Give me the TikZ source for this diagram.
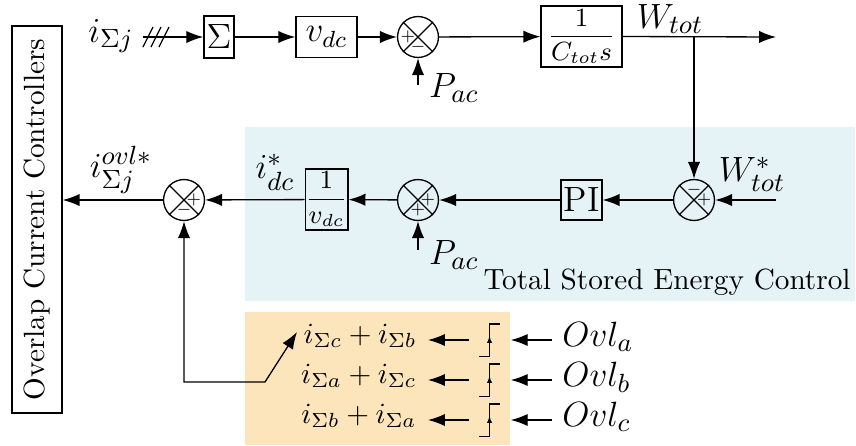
\documentclass[tikz,border=0pt]{standalone}
\usepackage{xcolor}
\usepackage{amsmath}
\usepackage{amssymb}
\usepackage{tikz}
\usetikzlibrary{arrows.meta,positioning}

\definecolor{tsecblue}{RGB}{229,242,246}
\definecolor{selorange}{RGB}{253,229,187}

\tikzset{
    block/.style={draw, rectangle, inner sep=0pt, font=\fontsize{12}{14}\selectfont},
    fracblock/.style={block, font=\fontsize{9}{11}\selectfont},
    lab/.style={font=\fontsize{12.5}{15}\selectfont},
    sumnode/.style={draw, circle, minimum size=14pt, inner sep=0pt},
    sgn/.style={font=\fontsize{4.5}{5}\selectfont, inner sep=0pt},
    stepsym/.style={minimum width=6.5pt, minimum height=10.6pt, inner sep=0pt},
}

\begin{document}
\begin{tikzpicture}[x=0.342pt, y=-0.342pt, line width=0.45pt, >={Latex[length=5.8pt,width=4.2pt]}]
        \useasboundingbox (0,0) rectangle (856,445);
        % backgrounds
        \fill[tsecblue] (245,127) rectangle (855,301);
        \fill[selorange] (245,312) rectangle (510,445);
        \node (tsec) at (667,282) {Total Stored Energy Control};

        % left box
        \node[draw, rotate=90, minimum width=132.4pt, minimum height=17.1pt, inner sep=0pt] (occ) at (37,219.5) {Overlap Current Controllers};

        % top row
        \coordinate (iin) at (143,37);
        \node[lab] (ilab) at (111,36) {$i_{\Sigma j}$};
        \node[block, minimum width=10.3pt, minimum height=14.4pt] (sig) at (219,37) {$\Sigma$};
        \node[block, minimum width=20.9pt, minimum height=14pt] (vdc) at (326.5,37) {$v_{dc}$};
        \node[sumnode] (ts) at (418,37) {};
        \node[fracblock, minimum width=27.7pt, minimum height=20.9pt] (ctot) at (581.5,36.5) {$\dfrac{1}{C_{tot}s}$};
        \coordinate (wend) at (776,37);
        \node[lab] (wtot) at (670,19) {$W_{tot}$};
        \coordinate (pac1) at (418,85);
        \node[lab] (pac1lab) at (454,88) {$P_{ac}$};

        % bottom row
        \coordinate (win) at (776,200);
        \node[lab] (wref) at (752,174) {$W^*_{tot}$};
        \node[sumnode] (rs) at (694,200) {};
        \node[block, minimum width=14pt, minimum height=13.7pt, font=\large] (pi) at (581.5,200) {PI};
        \node[sumnode] (ms) at (418,200) {};
        \coordinate (pac2) at (418,250);
        \node[lab] (pac2lab) at (454,255) {$P_{ac}$};
        \node[fracblock, minimum width=14pt, minimum height=20.9pt] (vdc2) at (326.5,199.5) {$\dfrac{1}{v_{dc}}$};
        \node[lab] (idc) at (275,172) {$i^*_{dc}$};
        \node[sumnode] (ls) at (184,200) {};
        \node[lab] (iovl) at (121,170) {$i^{ovl*}_{\Sigma j}$};

        % crosses and signs
        \foreach \s in {ts,rs,ms,ls}
            \draw (\s.north west) -- (\s.south east) (\s.north east) -- (\s.south west);
        \path (ts.center) ++(-10,0) node[sgn] {$+$};
        \path (ts.center) ++(0,10) node[sgn] {$-$};
        \path (rs.center) ++(0,-10) node[sgn] {$-$};
        \path (rs.center) ++(10,0) node[sgn] {$+$};
        \path (ms.center) ++(10,0) node[sgn] {$+$};
        \path (ms.center) ++(0,10) node[sgn] {$+$};
        \path (ls.center) ++(10,0) node[sgn] {$+$};
        \path (ls.center) ++(0,10) node[sgn] {$-$};

        % selector
        \foreach \i/\y/\a/\b/\o in {1/340/c/b/a, 2/380/a/c/b, 3/420/b/a/c} {
            \node[anchor=east, inner sep=3.7pt] (r\i) at (428,\y-4) {$i_{\Sigma \a}+i_{\Sigma \b}$};
            \node[stepsym] (st\i) at (489.5,\y) {};
            \node[lab, anchor=west] (o\i) at (552,\y-3) {$Ovl_{\o}$};
            \draw (st\i.south west) -- (st\i.south) -- (st\i.north) -- (st\i.north east);
            \draw[-{Latex[length=2.5pt,width=1.8pt]}] (st\i.south) -- ([yshift=1.5pt]st\i.center);
            \draw[->, shorten <=3.4pt] (st\i.west) -- (st\i.west -| r\i.east);
            \draw[->, shorten >=3.8pt] (st\i.east -| o\i.west) -- (st\i.east);
        }
        \coordinate (fbk) at (265,382);
        \coordinate (sel) at (297,332);

        % connectors
        \draw[->] (iin) -- (sig.west);
        \foreach \x in {148,156,164}
            \draw (\x-5,47) -- (\x+5,27);
        \draw[->] (sig) -- (vdc);
        \draw[->] (vdc) -- (ts);
        \draw[->] (ts) -- (ctot);
        \draw[->] (ctot.east) -- (wend);
        \draw[->] (rs.north |- ctot.east) -- (rs.north);
        \draw[->] (pac1) -- (ts.south);
        \draw[->] (win) -- (rs.east);
        \draw[->] (rs) -- (pi);
        \draw[->] (pi) -- (ms);
        \draw[->] (pac2) -- (ms.south);
        \draw[->] (ms) -- (vdc2);
        \draw[->] (vdc2) -- (ls);
        \draw[->] (ls.west) -- (ls.west -| occ.south);
        \draw[<->] (sel) -- (fbk) -| (ls.south);
\end{tikzpicture}
\end{document}
